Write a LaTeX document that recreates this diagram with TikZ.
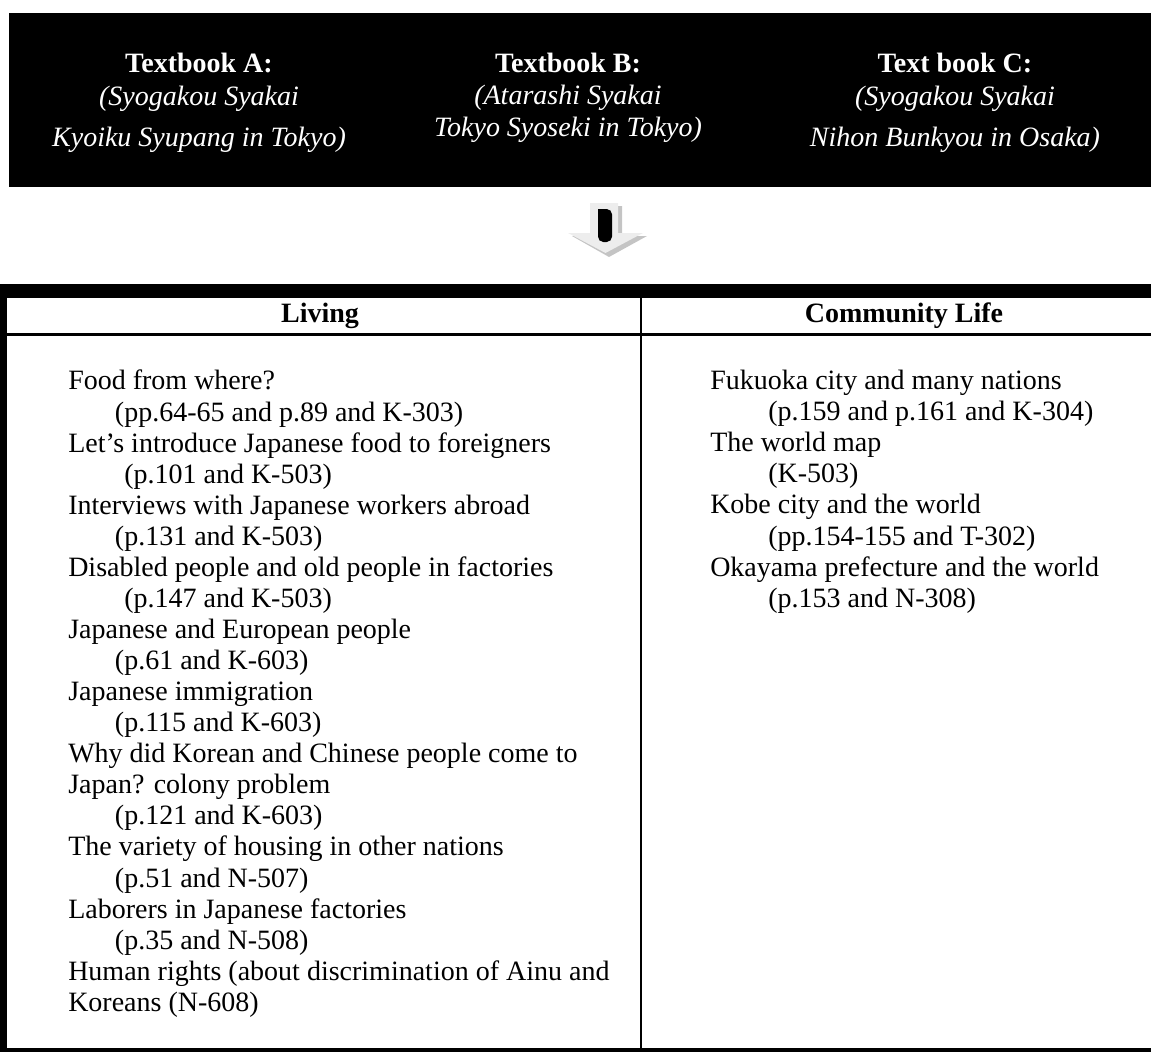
\documentclass[tikz,border=0pt]{standalone}
\usepackage{fontspec}
\setmainfont{Liberation Serif}
\usetikzlibrary{positioning}
\definecolor{arrowGray}{HTML}{EDEDED}
\definecolor{shadeGray}{HTML}{C4C4C4}
\tikzset{
  bookTitle/.style={anchor=north, text=white, align=center, inner sep=0pt, font=\fontsize{21}{24.75}\selectfont},
  colHead/.style={anchor=base, inner sep=0pt, font=\fontsize{21}{24}\selectfont\bfseries},
  topicList/.style={anchor=north west, align=left, inner sep=0pt, font=\fontsize{21}{23.3}\selectfont},
  thinRule/.style={line width=1.6pt},
  headRule/.style={line width=2.4pt}
}

\begin{document}
\begin{tikzpicture}[x=0.75pt, y=-0.75pt]
  \useasboundingbox (0,0) rectangle (1151,1052);

  % textbooks
  \fill[black] (9,13) rectangle (1151,187);
  \node[bookTitle] (bookA) at (199,53) {\textbf{Textbook A:}\\ \textit{(Syogakou Syakai}\\[6pt] \textit{Kyoiku Syupang in Tokyo)}};
  \node[bookTitle, font=\fontsize{21}{24}\selectfont] (bookB) at (568,53) {\textbf{Textbook B:}\\ \textit{(Atarashi Syakai}\\ \textit{Tokyo Syoseki in Tokyo)}};
  \node[bookTitle] (bookC) at (955,53) {\textbf{Text book C:}\\ \textit{(Syogakou Syakai}\\[6pt] \textit{Nihon Bunkyou in Osaka)}};

  % down arrow
  \fill[shadeGray] (594,206) -- (622,206) -- (622,236) -- (647,236) -- (609,257) -- (572,236) -- (594,236) -- cycle;
  \fill[arrowGray] (590,203) -- (618,203) -- (618,233) -- (643,233) -- (605.5,253) -- (568,233) -- (590,233) -- cycle;
  \fill[black, rounded corners=4pt] (598,209) -- (598,242) -- (612,242) -- (612,209) [sharp corners] -- cycle;

  % table
  \fill[black] (0,284) rectangle (1151,298);
  \fill[black] (0,284) rectangle (7,1052);
  \fill[black] (0,1048) rectangle (1151,1052);
  \draw[headRule] (7,334.8) -- (1151,334.8);
  \draw[thinRule] (641,298) -- (641,1048);

  \node[colHead] (living) at (320,322) {Living};
  \node[colHead] (community) at (904,322) {Community Life};

  \node[topicList] (livingList) at (68,370) {Food from where?\\
    \hspace*{35pt}(pp.64-65 and p.89 and K-303)\\
    Let's introduce Japanese food to foreigners\\
    \hspace*{42pt}(p.101 and K-503)\\
    Interviews with Japanese workers abroad\\
    \hspace*{35pt}(p.131 and K-503)\\
    Disabled people and old people in factories\\
    \hspace*{42pt}(p.147 and K-503)\\
    Japanese and European people\\
    \hspace*{35pt}(p.61 and K-603)\\
    Japanese immigration\\
    \hspace*{35pt}(p.115 and K-603)\\
    Why did Korean and Chinese people come to\\
    Japan? colony problem\\
    \hspace*{35pt}(p.121 and K-603)\\
    The variety of housing in other nations\\
    \hspace*{35pt}(p.51 and N-507)\\
    Laborers in Japanese factories\\
    \hspace*{35pt}(p.35 and N-508)\\
    Human rights (about discrimination of Ainu and\\
    Koreans (N-608)};

  \node[topicList] (communityList) at (710,370) {Fukuoka city and many nations\\
    \hspace*{43.5pt}(p.159 and p.161 and K-304)\\
    The world map\\
    \hspace*{43.5pt}(K-503)\\
    Kobe city and the world\\
    \hspace*{43.5pt}(pp.154-155 and T-302)\\
    Okayama prefecture and the world\\
    \hspace*{43.5pt}(p.153 and N-308)};
\end{tikzpicture}
\end{document}
